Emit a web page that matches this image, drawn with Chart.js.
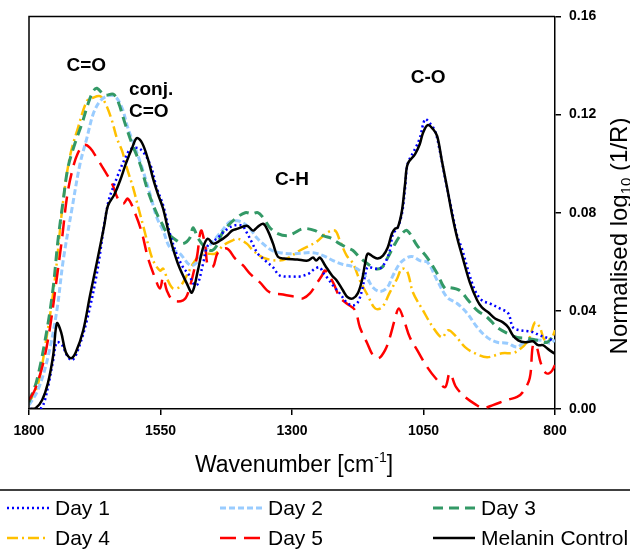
<!DOCTYPE html>
<html>
<head>
<meta charset="utf-8">
<script src="https://cdn.jsdelivr.net/npm/chart.js@4.4.1/dist/chart.umd.min.js"></script>
<style>
html,body{margin:0;padding:0;background:#fff;}
#c{display:block;}
</style>
</head>
<body>
<canvas id="c" width="630" height="549" style="width:630px;height:549px"></canvas>
<script>
// ---------- DATA ----------
const xTicks = [1800, 1550, 1300, 1050, 800];
const yTicks = [0.00, 0.04, 0.08, 0.12, 0.16];
const seriesNames = ["Day 1", "Day 2", "Day 3", "Day 4", "Day 5", "Melanin Control"];

const day1Wn = [1798,1787,1775,1764,1754,1747,1737,1728,1718,1707,1690,1671,1650,1633,1617,1606,1589,1570,1557,1545,1532,1519,1507,1497,1485,1479,1469,1460,1443,1427,1412,1395,1386,1376,1365,1351,1336,1323,1298,1285,1268,1256,1247,1241,1232,1222,1209,1196,1184,1175,1167,1161,1156,1142,1133,1123,1114,1108,1100,1091,1085,1080,1066,1057,1047,1038,1028,1019,1009,996,986,977,965,952,939,924,905,889,880,867,851,842,829,813,802];
const day1Abs = [0.0000,0.0000,0.0008,0.0089,0.0199,0.0272,0.0260,0.0219,0.0199,0.0240,0.0361,0.0552,0.0836,0.0942,0.1023,0.1060,0.1060,0.0999,0.0900,0.0830,0.0714,0.0630,0.0577,0.0550,0.0505,0.0510,0.0593,0.0666,0.0694,0.0727,0.0747,0.0747,0.0719,0.0678,0.0633,0.0605,0.0577,0.0544,0.0540,0.0540,0.0552,0.0572,0.0577,0.0556,0.0532,0.0503,0.0471,0.0434,0.0422,0.0434,0.0483,0.0544,0.0577,0.0572,0.0572,0.0597,0.0646,0.0715,0.0735,0.0796,0.0901,0.0999,0.1060,0.1104,0.1181,0.1165,0.1133,0.1052,0.0942,0.0808,0.0706,0.0654,0.0564,0.0483,0.0443,0.0430,0.0410,0.0390,0.0333,0.0321,0.0317,0.0313,0.0300,0.0288,0.0276];

const day2Wn = [1800,1783,1764,1747,1735,1718,1703,1690,1678,1665,1652,1637,1623,1612,1598,1585,1570,1557,1545,1532,1513,1498,1490,1481,1471,1460,1446,1433,1418,1405,1393,1380,1367,1351,1338,1323,1298,1260,1241,1222,1203,1186,1171,1157,1146,1133,1119,1108,1095,1081,1070,1057,1042,1024,1005,986,967,948,929,910,891,872,861,844,825,810,800];
const day2Abs = [0.0016,0.0077,0.0211,0.0402,0.0605,0.0820,0.0999,0.1104,0.1202,0.1255,0.1275,0.1275,0.1226,0.1145,0.1064,0.0983,0.0877,0.0780,0.0727,0.0658,0.0633,0.0593,0.0585,0.0597,0.0633,0.0658,0.0694,0.0727,0.0763,0.0767,0.0759,0.0735,0.0698,0.0666,0.0646,0.0637,0.0633,0.0637,0.0625,0.0605,0.0589,0.0581,0.0564,0.0532,0.0495,0.0479,0.0495,0.0544,0.0593,0.0617,0.0621,0.0605,0.0597,0.0524,0.0455,0.0430,0.0390,0.0333,0.0292,0.0272,0.0268,0.0252,0.0268,0.0280,0.0280,0.0268,0.0280];

const day3Wn = [1800,1785,1766,1754,1745,1735,1726,1713,1699,1688,1678,1671,1656,1640,1631,1617,1604,1589,1574,1557,1547,1538,1519,1507,1494,1488,1479,1465,1452,1443,1433,1422,1405,1389,1376,1365,1355,1342,1327,1310,1298,1279,1256,1241,1228,1213,1196,1184,1171,1157,1142,1129,1118,1104,1091,1081,1062,1043,1024,1009,1000,981,965,948,929,910,891,872,853,834,815,800];
const day3Abs = [0.0028,0.0118,0.0321,0.0495,0.0686,0.0849,0.0983,0.1080,0.1165,0.1242,0.1295,0.1307,0.1279,0.1283,0.1255,0.1161,0.1080,0.0999,0.0889,0.0796,0.0755,0.0719,0.0686,0.0674,0.0698,0.0739,0.0698,0.0658,0.0646,0.0666,0.0715,0.0747,0.0780,0.0800,0.0796,0.0800,0.0780,0.0739,0.0715,0.0706,0.0715,0.0735,0.0727,0.0706,0.0698,0.0678,0.0658,0.0646,0.0617,0.0593,0.0572,0.0577,0.0617,0.0674,0.0715,0.0727,0.0666,0.0617,0.0552,0.0491,0.0495,0.0483,0.0443,0.0402,0.0374,0.0333,0.0309,0.0292,0.0288,0.0280,0.0272,0.0309];

const day4Wn = [1800,1783,1766,1751,1735,1722,1707,1690,1680,1665,1654,1642,1633,1623,1614,1602,1593,1583,1574,1564,1551,1545,1536,1526,1513,1498,1488,1475,1460,1446,1431,1414,1403,1386,1374,1355,1328,1310,1285,1253,1233,1218,1209,1196,1184,1171,1156,1142,1129,1114,1100,1091,1081,1070,1051,1032,1015,1003,990,971,952,929,901,876,851,838,829,819,806,800];
const day4Abs = [0.0024,0.0101,0.0300,0.0524,0.0849,0.1031,0.1145,0.1255,0.1267,0.1275,0.1242,0.1173,0.1104,0.1052,0.0983,0.0901,0.0828,0.0747,0.0674,0.0605,0.0564,0.0572,0.0524,0.0491,0.0499,0.0552,0.0593,0.0625,0.0633,0.0633,0.0666,0.0686,0.0694,0.0674,0.0646,0.0617,0.0605,0.0613,0.0646,0.0682,0.0719,0.0727,0.0686,0.0625,0.0593,0.0524,0.0463,0.0410,0.0414,0.0475,0.0532,0.0572,0.0560,0.0475,0.0402,0.0333,0.0292,0.0321,0.0300,0.0252,0.0227,0.0211,0.0227,0.0231,0.0280,0.0353,0.0333,0.0280,0.0292,0.0321];

const day5Wn = [1800,1789,1773,1760,1747,1737,1728,1718,1707,1695,1684,1671,1656,1642,1631,1621,1612,1598,1585,1574,1560,1551,1545,1538,1526,1507,1498,1481,1473,1465,1460,1450,1441,1424,1408,1393,1380,1361,1342,1317,1290,1279,1266,1253,1243,1237,1222,1209,1196,1180,1171,1157,1146,1135,1123,1114,1104,1097,1087,1076,1062,1043,1024,1009,1000,988,971,952,937,918,891,872,861,848,842,836,827,817,808,800];
const day5Abs = [0.0037,0.0077,0.0187,0.0333,0.0536,0.0698,0.0861,0.0970,0.1043,0.1076,0.1064,0.1023,0.0970,0.0918,0.0857,0.0836,0.0857,0.0796,0.0715,0.0617,0.0532,0.0491,0.0536,0.0483,0.0443,0.0443,0.0471,0.0617,0.0727,0.0666,0.0585,0.0581,0.0637,0.0654,0.0613,0.0585,0.0552,0.0516,0.0475,0.0467,0.0455,0.0451,0.0471,0.0512,0.0544,0.0564,0.0516,0.0455,0.0430,0.0402,0.0333,0.0268,0.0219,0.0207,0.0240,0.0292,0.0369,0.0410,0.0361,0.0292,0.0240,0.0171,0.0118,0.0089,0.0146,0.0089,0.0049,0.0020,0.0004,0.0016,0.0037,0.0049,0.0069,0.0126,0.0260,0.0260,0.0187,0.0146,0.0150,0.0179];

const melaninWn = [1798,1787,1775,1764,1754,1747,1739,1730,1720,1711,1697,1684,1671,1657,1650,1638,1627,1616,1604,1595,1585,1574,1564,1555,1545,1532,1517,1500,1490,1479,1469,1460,1450,1437,1424,1414,1403,1386,1374,1367,1355,1346,1336,1327,1315,1290,1270,1260,1254,1247,1237,1224,1215,1203,1194,1184,1175,1167,1161,1156,1146,1137,1127,1118,1110,1104,1099,1091,1085,1080,1066,1057,1051,1042,1032,1024,1015,1005,996,986,975,962,948,939,927,914,899,889,880,870,857,842,832,823,813,802];
const melaninAbs = [0.0000,0.0004,0.0037,0.0106,0.0219,0.0349,0.0313,0.0231,0.0207,0.0231,0.0320,0.0463,0.0597,0.0747,0.0828,0.0873,0.0930,0.0999,0.1064,0.1104,0.1084,0.1019,0.0938,0.0877,0.0816,0.0698,0.0593,0.0512,0.0475,0.0564,0.0658,0.0694,0.0674,0.0686,0.0706,0.0727,0.0735,0.0747,0.0727,0.0739,0.0755,0.0727,0.0674,0.0621,0.0613,0.0609,0.0605,0.0617,0.0605,0.0617,0.0585,0.0544,0.0524,0.0483,0.0455,0.0451,0.0471,0.0524,0.0593,0.0633,0.0621,0.0613,0.0625,0.0658,0.0715,0.0735,0.0739,0.0808,0.0918,0.0999,0.1039,0.1080,0.1125,0.1157,0.1141,0.1112,0.1011,0.0901,0.0796,0.0698,0.0613,0.0516,0.0443,0.0414,0.0394,0.0369,0.0353,0.0333,0.0300,0.0280,0.0272,0.0276,0.0260,0.0260,0.0244,0.0227];

// peak annotations: [text lines, wavenumber, value of first line centre, align]
const annotationText = [["C=O"], ["conj.", "C=O"], ["C-H"], ["C-O"]];
const annotationWn = [1691, 1610, 1300, 1041];
const annotationVal = [0.1397, 0.1300, 0.0934, 0.1348];
const annotationAlign = ["center", "left", "center", "center"];

// ---------- STYLES ----------
const FONT = "'Liberation Sans', Arial, sans-serif";
const styles = [
  {color: "#0000FF", dash: [2, 3], width: 2.5, cap: "butt"},
  {color: "#99CCFF", dash: [6, 3], width: 3, cap: "butt"},
  {color: "#339966", dash: [10, 6], width: 3, cap: "butt"},
  {color: "#FFC000", dash: [11, 4, 2, 4], width: 2.5, cap: "butt"},
  {color: "#FF0000", dash: [16, 8], width: 2.5, cap: "butt"},
  {color: "#000000", dash: [], width: 2.5, cap: "round"}
];

const toPts = (wn, v) => wn.map((x, i) => ({x: x, y: v[i]}));
const allData = [
  toPts(day1Wn, day1Abs), toPts(day2Wn, day2Abs), toPts(day3Wn, day3Abs),
  toPts(day4Wn, day4Abs), toPts(day5Wn, day5Abs), toPts(melaninWn, melaninAbs)
];
const drawOrder = [1, 4, 3, 5, 2, 0]; // lower = on top

const datasets = seriesNames.map((n, i) => ({
  label: n,
  data: allData[i],
  borderColor: styles[i].color,
  borderDash: styles[i].dash,
  borderWidth: styles[i].width,
  borderCapStyle: styles[i].cap,
  borderJoinStyle: "round",
  fill: false,
  pointRadius: 0,
  tension: 0.35,
  order: drawOrder[i]
}));

const decor = {
  id: "decor",
  afterDraw(chart) {
    const ctx = chart.ctx, a = chart.chartArea, xs = chart.scales.x, ys = chart.scales.y;
    ctx.save();
    // frame (left + top)
    ctx.strokeStyle = "#000"; ctx.lineWidth = 1.5; ctx.setLineDash([]);
    ctx.beginPath();
    ctx.moveTo(a.left, a.bottom); ctx.lineTo(a.left, a.top); ctx.lineTo(a.right, a.top);
    ctx.stroke();

    // annotations
    ctx.fillStyle = "#000";
    ctx.font = "bold 19px " + FONT;
    ctx.textBaseline = "middle";
    annotationText.forEach((lines, i) => {
      ctx.textAlign = annotationAlign[i];
      const px = xs.getPixelForValue(annotationWn[i]);
      const py = ys.getPixelForValue(annotationVal[i]);
      lines.forEach((t, j) => ctx.fillText(t, px, py + j * 22));
    });

    // x-axis title with superscript
    const xt1 = "Wavenumber [cm", xsup = "-1", xt2 = "]";
    const bigX = "23px " + FONT, smallX = "14px " + FONT;
    ctx.font = bigX; const w1 = ctx.measureText(xt1).width; const w3 = ctx.measureText(xt2).width;
    ctx.font = smallX; const w2 = ctx.measureText(xsup).width;
    const total = w1 + w2 + w3;
    let sx = (a.left + a.right) / 2 - total / 2 + 2;
    const ty = 464;
    ctx.textAlign = "left"; ctx.textBaseline = "alphabetic";
    ctx.font = bigX; ctx.fillText(xt1, sx, ty + 8);
    ctx.font = smallX; ctx.fillText(xsup, sx + w1, ty - 2);
    ctx.font = bigX; ctx.fillText(xt2, sx + w1 + w2, ty + 8);

    // y-axis title with subscript (rotated)
    const y1 = "Normalised log", ysub = "10", y2 = " (1/R)";
    const bigY = "24px " + FONT, smallY = "15px " + FONT;
    ctx.font = bigY; const v1 = ctx.measureText(y1).width; const v3 = ctx.measureText(y2).width;
    ctx.font = smallY; const v2 = ctx.measureText(ysub).width;
    const vt = v1 + v2 + v3;
    ctx.translate(627, 236);
    ctx.rotate(-Math.PI / 2);
    let ox = -vt / 2;
    ctx.font = bigY; ctx.fillText(y1, ox, 0);
    ctx.font = smallY; ctx.fillText(ysub, ox + v1, 4);
    ctx.font = bigY; ctx.fillText(y2, ox + v1 + v2, 0);
    ctx.setTransform(1, 0, 0, 1, 0, 0);

    // legend separator
    ctx.strokeStyle = "#000"; ctx.lineWidth = 1.5;
    ctx.beginPath(); ctx.moveTo(0, 490); ctx.lineTo(630, 490); ctx.stroke();

    // legend entries
    const colX = [7, 220, 433], rowY = [508, 538], lineLen = 42;
    ctx.font = "21px " + FONT; ctx.textBaseline = "middle"; ctx.textAlign = "left";
    seriesNames.forEach((n, i) => {
      const cx = colX[i % 3], cy = rowY[Math.floor(i / 3)];
      ctx.strokeStyle = styles[i].color; ctx.lineWidth = styles[i].width;
      ctx.setLineDash(styles[i].dash); ctx.lineCap = "butt";
      ctx.beginPath(); ctx.moveTo(cx, cy); ctx.lineTo(cx + lineLen, cy); ctx.stroke();
      ctx.setLineDash([]);
      ctx.fillStyle = "#000";
      ctx.fillText(n, cx + lineLen + 6, cy + 1);
    });
    ctx.restore();
  }
};

new Chart(document.getElementById("c"), {
  type: "line",
  data: {datasets: datasets},
  options: {
    responsive: false,
    animation: false,
    layout: {padding: {left: 29, top: 15, right: 0, bottom: 0}},
    plugins: {legend: {display: false}, tooltip: {enabled: false}},
    scales: {
      x: {
        type: "linear", reverse: true, min: 800, max: 1800,
        afterBuildTicks: s => { s.ticks = xTicks.map(v => ({value: v})); },
        ticks: {font: {family: FONT, size: 14, weight: "bold"}, color: "#000", padding: 8, maxRotation: 0,
                callback: v => String(v)},
        grid: {drawOnChartArea: false, drawTicks: true, tickLength: 6, color: "#000", lineWidth: 1.5},
        border: {display: true, color: "#000", width: 1.5},
        afterFit: s => { s.height = 140; }
      },
      y: {
        position: "right", min: 0, max: 0.16,
        afterBuildTicks: s => { s.ticks = yTicks.map(v => ({value: v})); },
        ticks: {font: {family: FONT, size: 14, weight: "bold"}, color: "#000", padding: 8,
                callback: v => Number(v).toFixed(2)},
        grid: {drawOnChartArea: false, drawTicks: true, tickLength: 6, color: "#000", lineWidth: 1.5},
        border: {display: true, color: "#000", width: 1.5},
        afterFit: s => { s.width = 75; }
      }
    }
  },
  plugins: [decor]
});
</script>
</body>
</html>
